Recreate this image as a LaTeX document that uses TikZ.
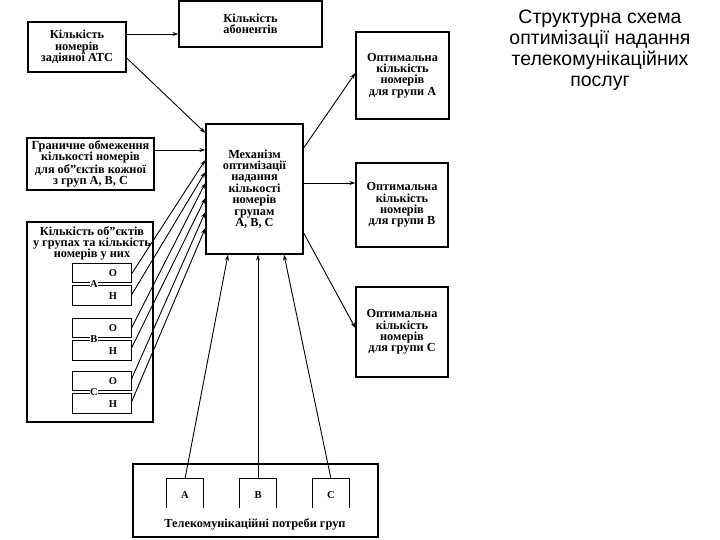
\documentclass[tikz,border=0pt]{standalone}
\usepackage{fontspec}
\setmainfont{Liberation Serif}
\newfontfamily\ttlfont{Liberation Sans}
\usetikzlibrary{arrows.meta}
\newcommand\bxfont{\bfseries\fontsize{12.3}{11.4}\selectfont}
\newcommand\smfont{\bfseries\fontsize{10.5}{11}\selectfont}
\begin{document}
\begin{tikzpicture}[x=1pt,y=-1pt,
  box/.style={draw, line width=1.3pt, inner sep=0pt, align=center, font=\bxfont},
  sub/.style={draw, line width=1pt, inner sep=0pt, minimum width=59pt, minimum height=42pt},
  inb/.style={inner sep=0pt, minimum height=29pt},
  lbl/.style={inner sep=0.5pt, font=\smfont, fill=white},
  conn/.style={line width=0.9pt, -{Stealth[length=6pt,width=4pt]}},
  dbl/.style={double, line width=0.9pt, double distance=2.2pt}
]
\useasboundingbox (0,0) rectangle (720,540);
% title
\node[font=\ttlfont\fontsize{19.5}{21}\selectfont, align=center] (title) at (600,50)
  {Структурна схема\\оптимізації надання\\телекомунікаційних\\послуг};
% boxes
\node[box, minimum width=98pt, minimum height=50pt] (ats) at (77,47) {Кількість\\номерів\\задіяної АТС};
\node[box, minimum width=143pt, minimum height=46pt] (abon) at (250.5,24) {Кількість\\абонентів};
\node[box, minimum width=127pt, minimum height=52pt] (gran) at (90.5,164) {Граничне обмеження\\кількості номерів\\для об”єктів кожної\\з груп A, B, C};
\node[box, minimum width=126pt, minimum height=200pt] (big) at (90,322) {};
\node[inner sep=0pt, align=center, font=\bxfont, anchor=north] (bigt) at (92,226) {Кількість об”єктів\\у групах та кількість\\номерів у них};
\node[box, minimum width=97pt, minimum height=130pt] (mech) at (254.5,189) {Механізм\\оптимізації\\надання\\кількості\\номерів\\групам\\A, B, C};
\node[box, minimum width=93pt, minimum height=87pt] (optA) at (402.5,75.5) {Оптимальна\\кількість\\номерів\\для групи A};
\node[box, minimum width=92pt, minimum height=84pt] (optB) at (402,205) {Оптимальна\\кількість\\номерів\\для групи B};
\node[box, minimum width=92pt, minimum height=90pt] (optC) at (402,332) {Оптимальна\\кількість\\номерів\\для групи C};
% sub boxes A B C
\foreach \n/\y/\t in {subA/284/A, subB/339/B, subC/392/C}{
  \node[sub] (\n) at (101.5,\y) {};
  \draw[dbl] (\n.west) -- (\n.east);
  \node[lbl] (\n l) at (94,\y) {\t};
  \node[lbl] (\n o) at (113,\y-11) {О};
  \node[lbl] (\n h) at (113,\y+12) {Н};
}
% bottom box
\node[box, minimum width=245pt, minimum height=73pt] (bot) at (255.5,500.5) {};
\node[inner sep=0pt, font=\bxfont] (bott) at (255,524) {Телекомунікаційні потреби груп};
\foreach \n/\x/\t in {inA/185/A, inB/258/B, inC/331/C}{
  \node[inb, minimum width=37pt] (\n) at (\x,493.5) {};
  \draw[line width=1pt] (\n.south west) -- (\n.north west) -- (\n.north east) -- (\n.south east);
  \node[inner sep=0pt, font=\smfont] (\n t) at (\x,495) {\t};
}
% connectors
\draw[conn] ([yshift=13pt]ats.east) -- ([yshift=-10pt]abon.west);
\draw[conn] ([yshift=-11pt]ats.east) -- ([yshift=56pt]mech.west);
\draw[conn] ([yshift=14pt]gran.east) -- ([yshift=39pt]mech.west);
\draw[conn] ([yshift=10pt]subA.east) -- ([yshift=29pt]mech.west);
\draw[conn] ([yshift=-11pt]subA.east) -- ([yshift=17pt]mech.west);
\draw[conn] ([yshift=11pt]subB.east) -- ([yshift=6pt]mech.west);
\draw[conn] ([yshift=-9pt]subB.east) -- ([yshift=-9pt]mech.west);
\draw[conn] ([yshift=13pt]subC.east) -- ([yshift=-23pt]mech.west);
\draw[conn] ([yshift=-10pt]subC.east) -- ([yshift=-39pt]mech.west);
\draw[conn] ([yshift=41pt]mech.east) -- ([yshift=2.5pt]optA.west);
\draw[conn] ([yshift=6pt]mech.east) -- ([yshift=22pt]optB.west);
\draw[conn] ([yshift=-44pt]mech.east) -- ([yshift=4pt]optC.west);
\draw[conn] (inA.north) -- ([xshift=-26.5pt]mech.south);
\draw[conn] (inB.north) -- ([xshift=3.5pt]mech.south);
\draw[conn] (inC.north) -- ([xshift=29.5pt]mech.south);
\end{tikzpicture}
\end{document}
